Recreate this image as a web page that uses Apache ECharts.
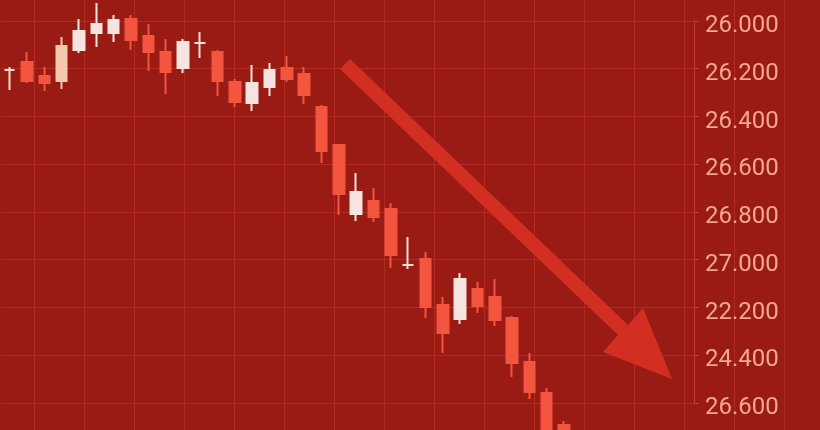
<!DOCTYPE html>
<html>
<head>
<meta charset="utf-8">
<script src="https://cdn.jsdelivr.net/npm/echarts@6/dist/echarts.min.js"></script>
<style>
html,body{margin:0;padding:0;background:#9a1b14;}
#c{width:820px;height:430px;}
</style>
</head>
<body>
<div id="c"></div>
<script>
// ---- data ----
const categories = ['1','2','3','4','5','6','7','8','9','10','11','12','13','14','15','16','17','18','19','20',
  '21','22','23','24','25','26','27','28','29','30','31','32','33','34','35','36','37','38','39','40'];
const openVals  = [26.205,26.172,26.230,26.251,26.121,26.050,26.050,25.992,26.063,26.130,26.197,26.092,26.130,26.255,26.343,26.276,26.197,26.222,26.360,26.519,26.808,26.754,26.787,27.022,26.997,27.190,27.248,27.123,27.156,27.244,27.428,27.558,27.692];
const closeVals = [26.205,26.251,26.260,26.105,26.042,26.013,25.996,26.080,26.130,26.214,26.088,26.092,26.251,26.339,26.260,26.205,26.243,26.310,26.545,26.725,26.716,26.821,26.980,27.022,27.198,27.307,27.081,27.194,27.252,27.432,27.554,27.755,27.880];
const lowVals   = [26.193,26.130,26.193,26.067,25.992,25.925,25.975,25.975,26.013,26.075,26.075,26.046,26.121,26.243,26.184,26.176,26.147,26.193,26.352,26.515,26.637,26.699,26.762,26.905,26.968,27.156,27.056,27.093,27.081,27.236,27.391,27.537,27.675];
const highVals  = [26.289,26.260,26.293,26.285,26.134,26.109,26.088,26.121,26.209,26.306,26.218,26.155,26.314,26.360,26.377,26.314,26.255,26.348,26.595,26.813,26.838,26.842,27.035,27.039,27.244,27.391,27.269,27.223,27.277,27.491,27.583,27.797,27.920];
const tickLabels = ['26.000','26.200','26.400','26.600','26.800','27.000','22.200','24.400','26.600'];

// ---- styling ----
const RED = '#f4553f', WHITE = '#f6e4e0', PEACH = '#f5c8ae', DOJI = '#f6dfcf';
const candleData = categories.map((c, i) => {
  if (i >= openVals.length) return '-';
  const o = openVals[i], cl = closeVals[i];
  let col = cl > o ? RED : WHITE;
  if (o === cl) col = DOJI;
  if (i === 3) col = PEACH;
  return {
    value: [o, cl, lowVals[i], highVals[i]],
    itemStyle: { color: col, color0: col, borderColor: col, borderColor0: col, borderColorDoji: col }
  };
});

const chart = echarts.init(document.getElementById('c'), null, { renderer: 'canvas' });
chart.setOption({
  backgroundColor: '#9a1b14',
  animation: false,
  grid: [
    { left: 1, right: 126, top: 21, bottom: 27 },
    { left: 34, right: 0, top: 0, bottom: 0 }
  ],
  xAxis: [
    { gridIndex: 0, type: 'category', data: categories, boundaryGap: true,
      axisLine: { show: false }, axisTick: { show: false }, axisLabel: { show: false }, splitLine: { show: false } },
    { gridIndex: 1, type: 'value', min: 0, max: 786, interval: 50,
      axisLine: { show: false }, axisTick: { show: false }, axisLabel: { show: false },
      splitLine: { show: true, lineStyle: { color: '#b22c22', width: 1 } } }
  ],
  yAxis: [
    { gridIndex: 0, type: 'value', inverse: true, min: 26, max: 27.6, interval: 0.2, position: 'right',
      axisLine: { show: true, lineStyle: { color: '#c73b2d', width: 1 } },
      axisTick: { show: true, inside: false, length: 5, lineStyle: { color: '#c73b2d' } },
      axisLabel: {
        show: true, margin: 11,
        formatter: v => { const k = Math.round((v - 26) / 0.2); return tickLabels[k] !== undefined ? '{a|' + tickLabels[k] + '}' : ''; },
        rich: { a: { color: '#f4a690', fontFamily: 'Roboto', fontSize: 24, lineHeight: 28, padding: [10, 0, 0, 0] } }
      },
      splitLine: { show: true, lineStyle: { color: '#b22c22', width: 1 } } },
    { gridIndex: 1, type: 'value', show: false, min: 0, max: 1 }
  ],
  series: [{
    type: 'candlestick',
    xAxisIndex: 0, yAxisIndex: 0,
    clip: false,
    barWidth: 11,
    data: candleData,
    itemStyle: { borderWidth: 2 },
    z: 3
  }],
  graphic: [{
    type: 'polygon',
    z: 10,
    shape: { points: [[340, 69], [350, 59], [628, 325], [643, 308], [672, 379], [603, 352], [618, 335]] },
    style: { fill: '#d22e22' }
  }]
});
</script>
</body>
</html>
